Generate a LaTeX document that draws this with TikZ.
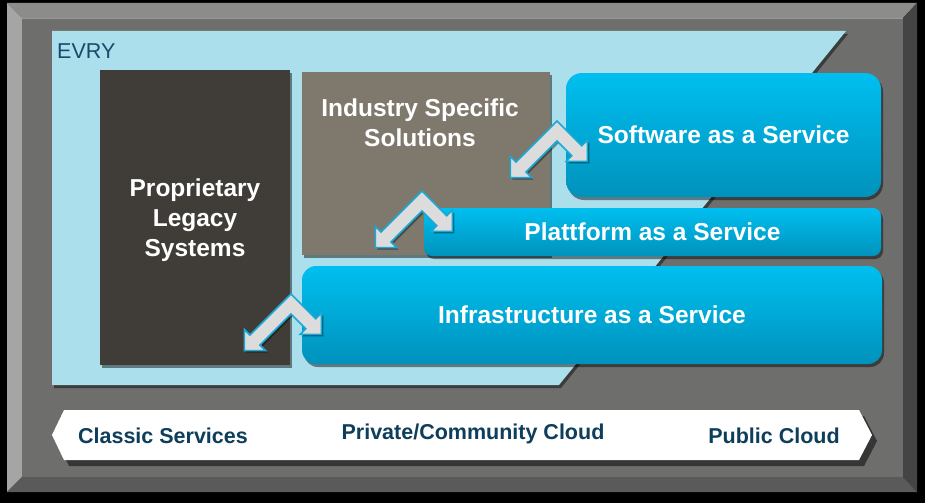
\documentclass[tikz,border=0pt]{standalone}
\usepackage{fontspec}
\setmainfont{Liberation Sans}
\usetikzlibrary{shadows}
\definecolor{bevtop}{HTML}{8C8C8B}
\definecolor{bevleft}{HTML}{A5A5A5}
\definecolor{bevright}{HTML}{444444}
\definecolor{bevbot}{HTML}{5A5A5A}
\definecolor{inner}{HTML}{6E6E6D}
\definecolor{evrybg}{HTML}{ABDFEC}
\definecolor{legacy}{HTML}{403D38}
\definecolor{industry}{HTML}{7F786D}
\definecolor{cyantop}{HTML}{00BFF0}
\definecolor{cyanbot}{HTML}{0092BC}
\definecolor{arrowgray}{HTML}{DCDCDC}
\definecolor{arrowcyan}{HTML}{1AA9D6}
\definecolor{labelblue}{HTML}{0E3E5B}
\definecolor{evryblue}{HTML}{184B6A}
\tikzset{
  myshadow/.style={drop shadow={shadow xshift=2pt, shadow yshift=-3pt, opacity=.45, fill=black}},
  boxtext/.style={inner sep=0pt, text=white, font=\fontsize{24.5}{30}\selectfont\bfseries, align=center},
  flatbox/.style={boxtext, myshadow},
  cloudbox/.style={flatbox, top color=cyantop, bottom color=cyanbot, draw=none},
  banlabel/.style={text=labelblue, font=\fontsize{21.5}{24}\selectfont\bfseries, inner sep=0pt},
  dblarrow/.pic={
    \filldraw[fill=arrowgray, draw=arrowcyan, line width=1.6pt, line join=miter,
      drop shadow={shadow xshift=2pt, shadow yshift=-2pt, opacity=.4, fill=black}]
      (0,-9.9) -- (24.75,14.85) -- (30.41,9.19) -- (30.41,30.41) -- (9.19,30.41)
      -- (14.85,24.75) -- (0,9.9) -- (-31.11,41.01) -- (-25.45,46.67)
      -- (-46.67,46.67) -- (-46.67,25.45) -- (-41.01,31.11) -- cycle;
  }
}
\begin{document}
\begin{tikzpicture}[x=1pt,y=-1pt]
\useasboundingbox (0,0) rectangle (925,503);
\fill[black] (0,0) rectangle (925,503);
% bevel frame
\fill[bevtop] (7,3) -- (917,3) -- (903,18) -- (22,18) -- cycle;
\fill[bevleft] (7,3) -- (22,18) -- (22,477) -- (7,492) -- cycle;
\fill[bevright] (917,3) -- (917,492) -- (903,477) -- (903,18) -- cycle;
\fill[bevbot] (7,492) -- (917,492) -- (903,477) -- (22,477) -- cycle;
\fill[inner] (22,18) rectangle (903,477);
\draw[black!40, line width=0.8pt] (22,18.4) -- (903,18.4);
% EVRY area
\fill[evrybg, myshadow] (52,31) -- (846,31) -- (559,385) -- (52,385) -- cycle;
\node[anchor=west, text=evryblue, font=\fontsize{21.5}{24}\selectfont, inner sep=0pt] (evry) at (57,51) {EVRY};
% boxes
\node[flatbox, fill=legacy, minimum width=190pt, minimum height=295pt] (legacy) at (195,217.5) {};
\node[boxtext] (legacytext) at (195,220) {Proprietary\\Legacy\\Systems};
\node[flatbox, fill=industry, minimum width=248pt, minimum height=183pt] (industry) at (426,163.5) {};
\node[boxtext] (industrytext) at (420,123) {Industry Specific\\Solutions};
\node[cloudbox, rounded corners=16pt, minimum width=315pt, minimum height=124pt] (saas) at (723.5,135) {Software as a Service};
\node[cloudbox, rounded corners=8pt, minimum width=457pt, minimum height=48pt] (paas) at (652.5,232) {Plattform as a Service};
\node[cloudbox, rounded corners=14pt, minimum width=580pt, minimum height=98pt] (iaas) at (592,315) {Infrastructure as a Service};
% chevron double arrows
\coordinate (a1) at (557,131);
\coordinate (a2) at (422,201);
\coordinate (a3) at (291,304);
\pic at (a1) {dblarrow};
\pic at (a2) {dblarrow};
\pic at (a3) {dblarrow};
% banner
\fill[white, drop shadow={shadow xshift=5pt, shadow yshift=-6pt, opacity=.5, fill=black}]
  (64,410) -- (859,410) -- (872,435) -- (859,460) -- (64,460) -- (52,435) -- cycle;
\node[banlabel] (classic) at (163,436) {Classic Services};
\node[banlabel] (private) at (473,434) {Private/Community Cloud};
\node[banlabel] (public) at (774,436) {Public Cloud};
\end{tikzpicture}
\end{document}
